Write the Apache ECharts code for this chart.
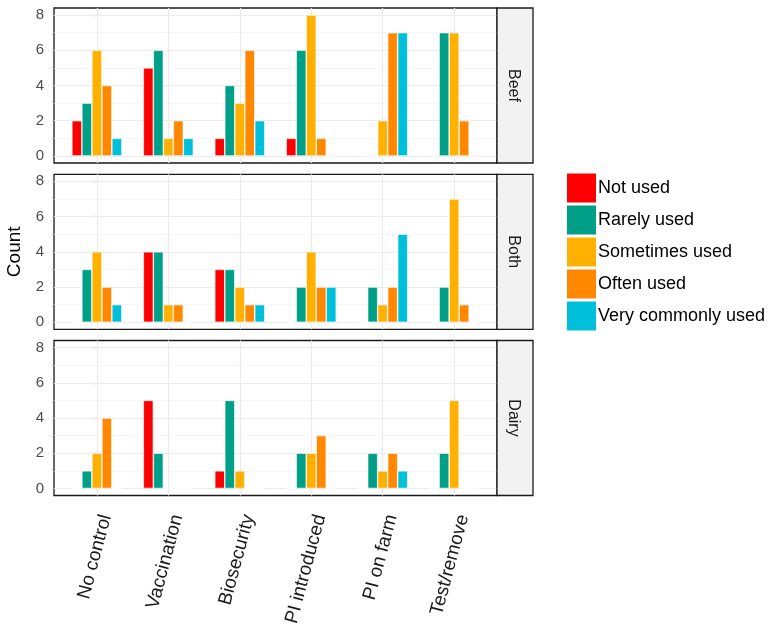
<!DOCTYPE html>
<html>
<head>
<meta charset="utf-8">
<script src="https://cdn.jsdelivr.net/npm/echarts@6/dist/echarts.min.js"></script>
<style>html,body{margin:0;padding:0;background:#fff}#c{width:775px;height:629px}</style>
</head>
<body>
<div id="c"></div>
<script>
const categories = ['No control', 'Vaccination', 'Biosecurity', 'PI introduced', 'PI on farm', 'Test/remove'];
const statuses = ['Not used', 'Rarely used', 'Sometimes used', 'Often used', 'Very commonly used'];
const panels = ['Beef', 'Both', 'Dairy'];
const yTicks = [0, 2, 4, 6, 8];
const yMinor = [1, 3, 5, 7];

// rows: statuses, columns: categories
const beefCounts = [
  [2, 5, 1, 1, 0, 0],
  [3, 6, 4, 6, 0, 7],
  [6, 1, 3, 8, 2, 7],
  [4, 2, 6, 1, 7, 2],
  [1, 1, 2, 0, 7, 0]
];
const bothCounts = [
  [0, 4, 3, 0, 0, 0],
  [3, 4, 3, 2, 2, 2],
  [4, 1, 2, 4, 1, 7],
  [2, 1, 1, 2, 2, 1],
  [1, 0, 1, 2, 5, 0]
];
const dairyCounts = [
  [0, 5, 1, 0, 0, 0],
  [1, 2, 5, 2, 2, 2],
  [2, 0, 1, 2, 1, 5],
  [4, 0, 0, 3, 2, 0],
  [0, 0, 0, 0, 1, 0]
];
const panelCounts = [beefCounts, bothCounts, dairyCounts];

const colors = ['#FF0000', '#00A088', '#FFB000', '#FF8800', '#00BFDA'];
const FONT = 'Liberation Sans, Arial, Helvetica, sans-serif';

const gridLeft = 54, gridWidth = 443, gridHeight = 155;
const gridTops = [8, 174.3, 340.5];
const unit = gridWidth / (categories.length + 0.2);
const innerLeft = gridLeft + 0.1 * unit, innerWidth = unit * categories.length;
const yMin = -0.4, yMax = 8.4;

const grids = [], xAxes = [], yAxes = [], series = [], graphics = [];
const catIdx = categories.map((c, i) => i);

panels.forEach((p, pi) => {
  const isBottom = pi === panels.length - 1;
  const outer = pi * 2, inner = pi * 2 + 1;
  // outer grid: frame, y axis, grid lines
  grids.push({
    left: gridLeft, top: gridTops[pi], width: gridWidth, height: gridHeight,
    show: true, borderColor: '#1a1a1a', borderWidth: 1.3, backgroundColor: '#fff',
    containLabel: false, outerBoundsMode: 'none'
  });
  // inner grid: bars and category axis
  grids.push({
    left: innerLeft, top: gridTops[pi], width: innerWidth, height: gridHeight, show: false,
    containLabel: false, outerBoundsMode: 'none'
  });
  xAxes.push({
    type: 'value', gridIndex: outer, min: -0.6, max: categories.length - 0.4, show: false
  });
  xAxes.push({
    type: 'category', gridIndex: inner, data: categories, boundaryGap: true,
    axisLine: { show: false },
    splitLine: { show: false },
    axisTick: { show: isBottom, alignWithLabel: true, length: 5, lineStyle: { color: '#333', width: 1.1 } },
    axisLabel: {
      show: isBottom, interval: 0, rotate: 75, margin: 17, verticalAlign: 'top',
      fontSize: 19, color: '#1a1a1a', fontFamily: FONT
    }
  });
  yAxes.push({
    type: 'value', gridIndex: outer, min: yMin, max: yMax,
    axisLine: { show: false },
    splitLine: { show: false },
    axisTick: { show: true, length: 5, lineStyle: { color: '#333', width: 1.1 }, customValues: yTicks },
    axisLabel: { customValues: yTicks, fontSize: 15, color: '#4D4D4D', margin: 10, fontFamily: FONT },
    name: pi === 1 ? 'Count' : '',
    nameLocation: 'middle', nameGap: 27, nameRotate: 90,
    nameTextStyle: { fontSize: 19, color: '#000', fontFamily: FONT }
  });
  yAxes.push({
    type: 'value', gridIndex: inner, min: yMin, max: yMax, show: false
  });
  // grid lines on the outer frame
  series.push({
    type: 'line', xAxisIndex: outer, yAxisIndex: outer, data: [], silent: true,
    markLine: {
      silent: true, symbol: 'none', z: 1, animation: false,
      label: { show: false },
      data: [
        ...yMinor.map(v => ({ yAxis: v, lineStyle: { type: 'solid', color: '#F2F2F2', width: 0.8 } })),
        ...yTicks.map(v => ({ yAxis: v, lineStyle: { type: 'solid', color: '#EBEBEB', width: 1.2 } })),
        ...catIdx.map(v => ({ xAxis: v, lineStyle: { type: 'solid', color: '#EBEBEB', width: 1.2 } }))
      ]
    }
  });
  statuses.forEach((s, si) => {
    series.push({
      type: 'bar', name: s, xAxisIndex: inner, yAxisIndex: inner,
      data: panelCounts[pi][si],
      barWidth: 10, barGap: '0%',
      itemStyle: { color: colors[si], borderColor: '#fff', borderWidth: 0.6 },
      emphasis: { disabled: true },
      z: 3
    });
  });
  graphics.push({
    type: 'rect', shape: { x: gridLeft + gridWidth, y: gridTops[pi], width: 36, height: gridHeight },
    style: { fill: '#F2F2F2', stroke: '#1a1a1a', lineWidth: 1.3 }, z: 10
  });
  graphics.push({
    type: 'text', x: gridLeft + gridWidth + 16, y: gridTops[pi] + gridHeight / 2, rotation: -Math.PI / 2,
    style: { text: p, fontSize: 16, fill: '#1a1a1a', align: 'center', verticalAlign: 'middle', fontFamily: FONT }, z: 11
  });
});

const chart = echarts.init(document.getElementById('c'), null, { renderer: 'canvas' });
chart.setOption({
  animation: false,
  backgroundColor: '#fff',
  textStyle: { fontFamily: FONT },
  color: colors,
  grid: grids,
  xAxis: xAxes,
  yAxis: yAxes,
  series: series,
  graphic: graphics,
  legend: {
    orient: 'vertical', left: 567, top: 173.5, padding: 0,
    data: statuses, icon: 'rect', itemWidth: 29, itemHeight: 29, itemGap: 3,
    selectedMode: false,
    textStyle: { fontSize: 18, color: '#000', fontFamily: FONT, padding: [0, 0, 0, -3] },
    itemStyle: { borderWidth: 0 }
  }
});
</script>
</body>
</html>
